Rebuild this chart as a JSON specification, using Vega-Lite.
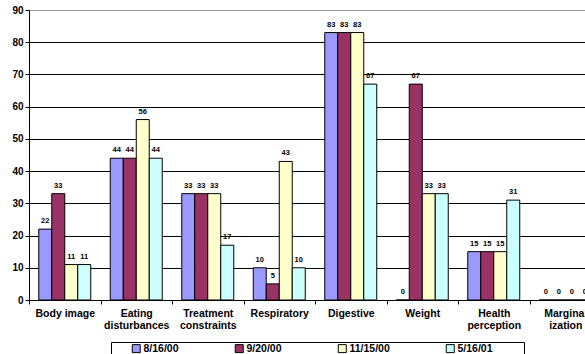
{
  "$schema": "https://vega.github.io/schema/vega-lite/v6.json",
  "autosize": {"type": "none"},
  "padding": {"left": 29, "top": 10, "right": 0, "bottom": 54},
  "width": 572,
  "height": 290,
  "background": "white",
  "config": {
    "view": {"stroke": null},
    "font": "Liberation Sans",
    "axis": {"labelFont": "Liberation Sans", "labelFontWeight": "bold", "labelColor": "black", "domainColor": "black", "tickColor": "black"},
    "legend": {"labelFont": "Liberation Sans"}
  },
  "data": {
    "values": [
      {"cat": "Body image", "date": "8/16/00", "value": 22},
      {"cat": "Body image", "date": "9/20/00", "value": 33},
      {"cat": "Body image", "date": "11/15/00", "value": 11},
      {"cat": "Body image", "date": "5/16/01", "value": 11},
      {"cat": "Eating|disturbances", "date": "8/16/00", "value": 44},
      {"cat": "Eating|disturbances", "date": "9/20/00", "value": 44},
      {"cat": "Eating|disturbances", "date": "11/15/00", "value": 56},
      {"cat": "Eating|disturbances", "date": "5/16/01", "value": 44},
      {"cat": "Treatment|constraints", "date": "8/16/00", "value": 33},
      {"cat": "Treatment|constraints", "date": "9/20/00", "value": 33},
      {"cat": "Treatment|constraints", "date": "11/15/00", "value": 33},
      {"cat": "Treatment|constraints", "date": "5/16/01", "value": 17},
      {"cat": "Respiratory", "date": "8/16/00", "value": 10},
      {"cat": "Respiratory", "date": "9/20/00", "value": 5},
      {"cat": "Respiratory", "date": "11/15/00", "value": 43},
      {"cat": "Respiratory", "date": "5/16/01", "value": 10},
      {"cat": "Digestive", "date": "8/16/00", "value": 83},
      {"cat": "Digestive", "date": "9/20/00", "value": 83},
      {"cat": "Digestive", "date": "11/15/00", "value": 83},
      {"cat": "Digestive", "date": "5/16/01", "value": 67},
      {"cat": "Weight", "date": "8/16/00", "value": 0},
      {"cat": "Weight", "date": "9/20/00", "value": 67},
      {"cat": "Weight", "date": "11/15/00", "value": 33},
      {"cat": "Weight", "date": "5/16/01", "value": 33},
      {"cat": "Health|perception", "date": "8/16/00", "value": 15},
      {"cat": "Health|perception", "date": "9/20/00", "value": 15},
      {"cat": "Health|perception", "date": "11/15/00", "value": 15},
      {"cat": "Health|perception", "date": "5/16/01", "value": 31},
      {"cat": "Marginal|ization", "date": "8/16/00", "value": 0},
      {"cat": "Marginal|ization", "date": "9/20/00", "value": 0},
      {"cat": "Marginal|ization", "date": "11/15/00", "value": 0},
      {"cat": "Marginal|ization", "date": "5/16/01", "value": 0}
    ]
  },
  "encoding": {
    "x": {
      "field": "cat", "type": "nominal", "sort": null,
      "scale": {"paddingInner": 0, "paddingOuter": 0},
      "axis": {"title": null, "labelAngle": 0, "labelExpr": "split(datum.label, '|')", "tickBand": "extent", "tickSize": 4, "labelFontSize": 10.5, "labelPadding": 4, "labelLineHeight": 12}
    },
    "xOffset": {
      "field": "date", "type": "nominal", "sort": ["8/16/00", "9/20/00", "11/15/00", "5/16/01"],
      "scale": {"paddingInner": 0, "paddingOuter": 0.75}
    },
    "y": {
      "field": "value", "type": "quantitative",
      "scale": {"domain": [0, 90], "nice": false},
      "axis": {"title": null, "values": [0, 10, 20, 30, 40, 50, 60, 70, 80, 90], "grid": true,
        "gridColor": {"condition": {"test": "datum.value == 90", "value": "#999999"}, "value": "black"},
        "tickSize": 4, "labelFontSize": 10, "labelPadding": 2}
    }
  },
  "layer": [
    {
      "mark": {"type": "bar", "stroke": "black", "strokeWidth": 1},
      "encoding": {
        "color": {
          "field": "date", "type": "nominal",
          "scale": {"domain": ["8/16/00", "9/20/00", "11/15/00", "5/16/01"], "range": ["#9999FF", "#993366", "#FFFFCC", "#CCFFFF"]},
          "legend": {
            "title": "\u00a0", "titleOrient": "right", "titlePadding": 30, "titleFontSize": 10,
            "orient": "none", "legendX": 82, "legendY": 332, "direction": "horizontal", "columns": 4,
            "symbolType": "square", "symbolSize": 64, "symbolStrokeColor": "black", "symbolStrokeWidth": 1, "symbolOpacity": 1,
            "labelFontWeight": "bold", "labelFontSize": 10.5, "labelColor": "black", "labelOffset": 2,
            "fillColor": "white", "strokeColor": "black", "padding": 1, "columnPadding": 36, "symbolOffset": 19
          }
        }
      }
    },
    {
      "mark": {"type": "text", "dy": -8, "fontSize": 7.5, "fontWeight": "bold", "color": "black"},
      "encoding": {"text": {"field": "value", "type": "quantitative"}}
    }
  ]
}
